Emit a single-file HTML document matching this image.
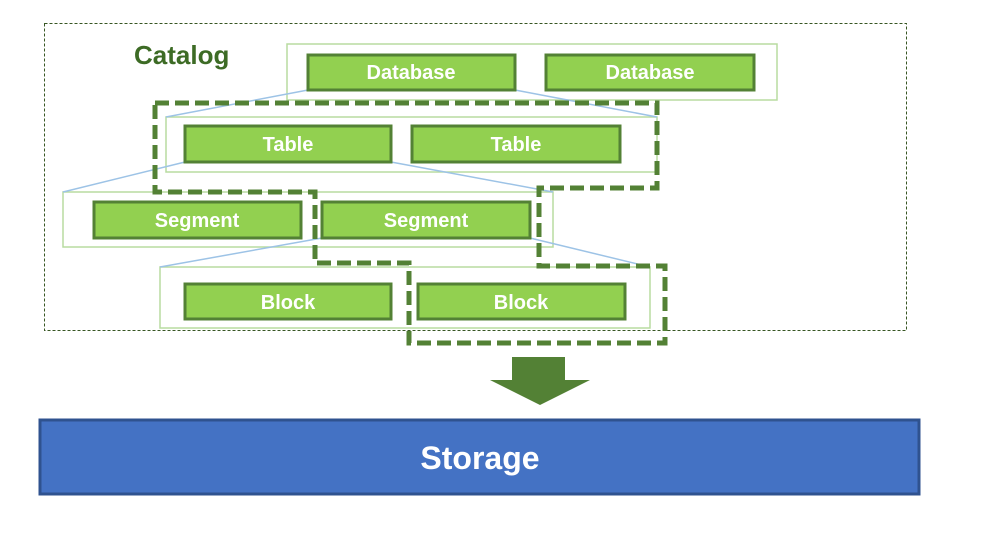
<!DOCTYPE html>
<html><head><style>body{margin:0;background:#fff}</style></head><body>
<svg width="994" height="529" xmlns="http://www.w3.org/2000/svg" font-family="Liberation Sans, sans-serif">
<rect x="44.5" y="23.5" width="862" height="307" fill="none" stroke="#375623" stroke-width="1" stroke-dasharray="3,2"/>
<text x="134" y="64" font-size="26" font-weight="bold" fill="#3d6b25">Catalog</text>
<g fill="none" stroke="#b8dca0" stroke-width="1.5">
<rect x="287" y="44" width="490" height="56"/>
<rect x="166" y="117" width="491" height="55"/>
<rect x="63" y="192" width="490" height="55"/>
<rect x="160" y="267" width="490" height="61"/>
</g>
<g stroke="#9dc3e6" stroke-width="1.5">
<line x1="308" y1="90" x2="166" y2="117"/><line x1="515" y1="90" x2="657" y2="117"/>
<line x1="185" y1="162" x2="63" y2="192"/><line x1="391" y1="162" x2="553" y2="192"/>
<line x1="322" y1="238" x2="160" y2="267"/><line x1="530" y1="238" x2="650" y2="267"/>
</g>
<g fill="#92d050" stroke="#538135" stroke-width="3">
<rect x="308" y="55" width="207" height="35"/><rect x="546" y="55" width="208" height="35"/>
<rect x="185" y="126" width="206" height="36"/><rect x="412" y="126" width="208" height="36"/>
<rect x="94" y="202" width="207" height="36"/><rect x="322" y="202" width="208" height="36"/>
<rect x="185" y="284" width="206" height="35"/><rect x="418" y="284" width="207" height="35"/>
</g>
<g fill="#fff" font-size="20" font-weight="bold" text-anchor="middle">
<text x="411" y="79">Database</text><text x="650" y="79">Database</text>
<text x="288" y="151">Table</text><text x="516" y="151">Table</text>
<text x="197" y="227">Segment</text><text x="426" y="227">Segment</text>
<text x="288" y="309">Block</text><text x="521" y="309">Block</text>
</g>
<path d="M155 103 H657 V188 H539 V266 H665 V343 H409 V263 H315 V192 H155 Z" fill="none" stroke="#538135" stroke-width="5" stroke-dasharray="14,6"/>
<polygon points="512,357 565,357 565,380 590,380 540,405 490,380 512,380" fill="#538135"/>
<rect x="40" y="420" width="879" height="74" fill="#4472c4" stroke="#2f528f" stroke-width="3"/>
<text x="480" y="469" font-size="32" font-weight="bold" fill="#fff" text-anchor="middle">Storage</text>
</svg>
</body></html>
